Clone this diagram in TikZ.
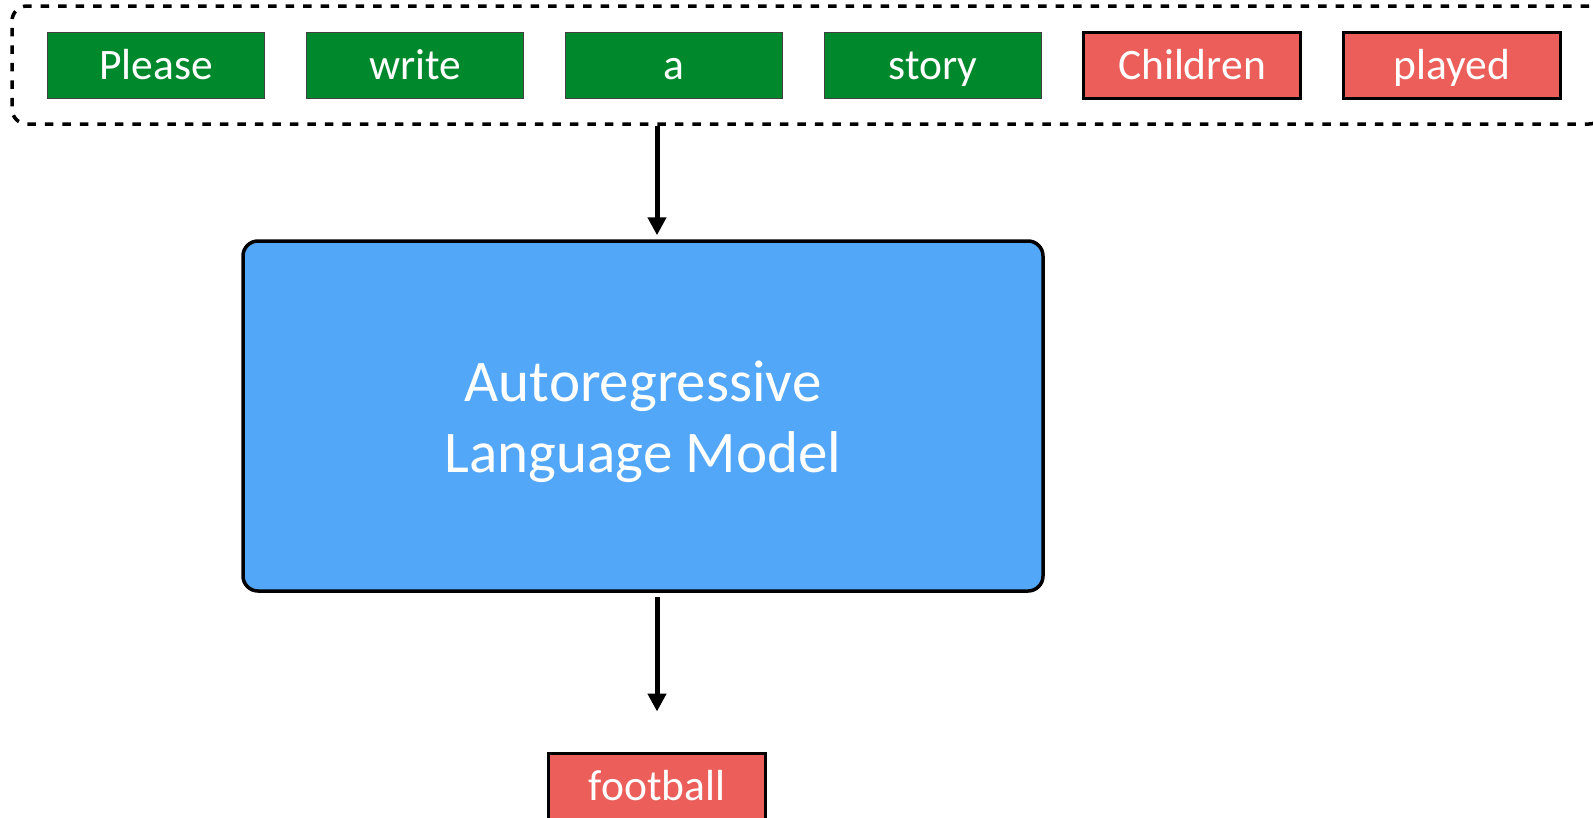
\documentclass[tikz,border=0pt]{standalone}
\usepackage{fontspec}
\setmainfont{Carlito}
\usetikzlibrary{arrows.meta}
\definecolor{tokgreen}{RGB}{0,136,44}
\definecolor{tokred}{RGB}{235,94,90}
\definecolor{lmblue}{RGB}{82,167,248}
\begin{document}
\begin{tikzpicture}[x=1pt,y=-1pt,
  token/.style={minimum width=217pt, minimum height=66pt, inner sep=0pt,
    text=white, font=\fontsize{43.5}{52}\selectfont,
    text height=28pt, text depth=0pt},
  prompttok/.style={token, fill=tokgreen, draw=black!75, line width=1pt},
  gentok/.style={token, fill=tokred, draw=black, line width=3pt},
  promptframe/.style={draw=black, line width=3.5pt, dash pattern=on 8.5pt off 9pt,
    rounded corners=15pt, minimum width=1592pt, minimum height=118pt, inner sep=0pt},
  lmbox/.style={draw=black, fill=lmblue, line width=3.5pt, rounded corners=15pt,
    minimum width=800pt, minimum height=350pt, inner sep=0pt},
  lmtext/.style={anchor=base, text=white, font=\fontsize{59}{71}\selectfont, inner sep=0pt},
  conn/.style={line width=5pt, -{Triangle[width=18pt,length=18pt]}}]

\useasboundingbox (0,0) rectangle (1593,817);
\clip (0,0) rectangle (1593,817);

% prompt and the tokens generated so far
\node (prompt) [promptframe] at (808,65) {};
\node (t1) [prompttok] at (156,65.5) {Please};
\node (t2) [prompttok] at (415,65.5) {write};
\node (t3) [prompttok] at (674,65.5) {a};
\node (t4) [prompttok] at (933,65.5) {story};
\node (t5) [gentok] at (1192,65.5) {Children};
\node (t6) [gentok] at (1452,65.5) {played};

% the model
\node (lm) [lmbox] at (643,416) {};
\node (lmA) [lmtext] at (643,401) {Autoregressive};
\node (lmB) [lmtext] at (643,472) {Language Model};

% next token
\node (out) [gentok] at (657,786) {football};

% connectors
\draw[conn, shorten >=4pt] (prompt.south -| out.north) -- (lm.north -| out.north);
\draw[conn, shorten <=4pt, shorten >=40pt] (lm.south -| out.north) -- (out.north);
\end{tikzpicture}
\end{document}
